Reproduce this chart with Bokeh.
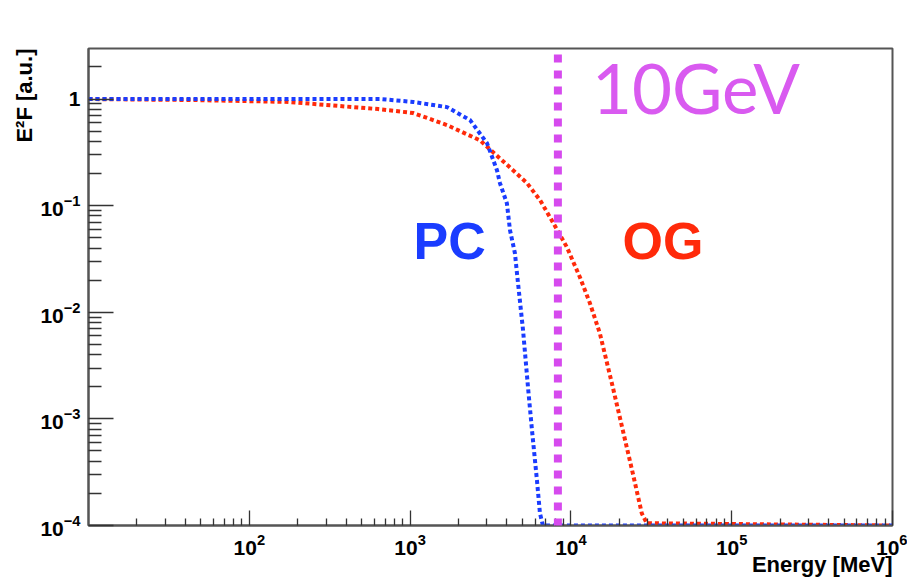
import numpy as np
from bokeh.plotting import figure
from bokeh.models import Label, FixedTicker, LogTickFormatter, Arrow, Title
from bokeh.embed import file_html
from bokeh.resources import INLINE

# ---- data ----
pc_energy = [10, 100, 300, 652, 1045, 1698, 2360, 3008, 3470, 3620, 4000, 4180,
             4487, 4620, 5040, 5410, 5730, 6150, 6420, 6700, 1e6]
pc_flux = [1.0, 1.0, 1.0, 1.0, 0.94, 0.84, 0.635, 0.386, 0.215, 0.163, 0.105, 0.0589,
           0.0358, 0.0232, 0.00678, 0.00198, 7.8e-4, 2.65e-4, 1.3e-4, 1.0e-4, 1.0e-4]

og_energy = [10, 43.6, 175, 633, 1045, 1698, 2720, 4365, 5330, 6420, 7410, 9450,
             11380, 13120, 15140, 18230, 21040, 24270, 27600, 29650, 1e6]
og_flux = [1.0, 0.98, 0.94, 0.805, 0.74, 0.57, 0.41, 0.215, 0.163, 0.113, 0.078, 0.0407,
           0.0213, 0.0122, 0.00635, 0.00198, 7.8e-4, 3.08e-4, 1.3e-4, 1.05e-4, 1.0e-4]

marker_energy = 8300          # the "10GeV" marker line as drawn
marker_extent = [4.9e-5, 6.4]

x_major = [1e2, 1e3, 1e4, 1e5, 1e6]
y_major = [1e-4, 1e-3, 1e-2, 1e-1, 1.0]
y_label_overrides = {1.0: "1"}

x_title = "Energy [MeV]"
y_title = "E\u00b2F [a.u.]"

x_range = (10, 1e6)
y_range = (1e-4, 2.98)

BLUE = "#1a3cff"
RED = "#ff2a0a"
MAG = "#d64aee"
FRAME = "#555555"
FONT = "Liberation Sans"

p = figure(x_axis_type="log", y_axis_type="log", x_range=x_range, y_range=y_range,
           frame_width=804, frame_height=477,
           min_border_left=88, min_border_right=15, min_border_top=48, min_border_bottom=54,
           output_backend="svg", toolbar_location=None)
p.grid.visible = False
p.background_fill_color = "white"
p.border_fill_color = "white"
p.outline_line_color = FRAME
p.outline_line_width = 2

x_minor = [m * 10 ** k for k in range(1, 6) for m in range(2, 10)]
y_minor = [m * 10.0 ** k for k in range(-4, 1) for m in range(2, 10) if m * 10.0 ** k < y_range[1]]

p.xaxis.ticker = FixedTicker(ticks=x_major, minor_ticks=x_minor)
p.yaxis.ticker = FixedTicker(ticks=y_major, minor_ticks=y_minor)
p.yaxis.major_label_overrides = y_label_overrides
for ax in (p.xaxis[0], p.yaxis[0]):
    ax.formatter = LogTickFormatter()
    ax.axis_line_color = FRAME
    ax.axis_line_width = 2
    ax.major_tick_line_color = "#333333"
    ax.minor_tick_line_color = "#333333"
    ax.major_tick_line_width = 1.3
    ax.minor_tick_line_width = 1.3
    ax.major_tick_out = 0
    ax.minor_tick_out = 0
    ax.major_label_text_font = FONT
    ax.major_label_text_font_style = "bold"
    ax.major_label_text_font_size = "21px"
    ax.major_label_text_color = "black"
p.xaxis.major_tick_in = 15
p.xaxis.minor_tick_in = 7
p.yaxis.major_tick_in = 25
p.yaxis.minor_tick_in = 13
p.xaxis.major_label_standoff = 8
p.yaxis.major_label_standoff = 8


def make_title(text, standoff):
    t = Title(text=text, align="right", text_font=FONT, text_font_style="bold",
              text_font_size="22px", text_color="black")
    try:
        t.standoff = standoff
    except Exception:
        t.standoff = 0
    return t


p.add_layout(make_title(x_title, -15), "below")
p.add_layout(make_title(y_title, 2), "left")

# curves
p.line(og_energy, og_flux, line_color=RED, line_width=4, line_dash="4 3")
p.line(pc_energy, pc_flux, line_color=BLUE, line_width=4, line_dash="4 3")

# marker line
p.add_layout(Arrow(x_start=marker_energy, y_start=marker_extent[0],
                   x_end=marker_energy, y_end=marker_extent[1], end=None,
                   line_color=MAG, line_width=8, line_dash="8 8", line_cap="butt"))

# annotations in the plot
p.add_layout(Label(x=1050, y=0.0305, y_offset=20, text="PC", text_align="left",
                   text_baseline="alphabetic",
                   text_font=FONT, text_font_style="bold", text_font_size="52px",
                   text_color=BLUE))
p.add_layout(Label(x=20940, y=0.0305, y_offset=20, text="OG", text_align="left",
                   text_baseline="alphabetic",
                   text_font=FONT, text_font_style="bold", text_font_size="52px",
                   text_color=RED))
p.add_layout(Label(x=14300, y=0.731, x_offset=-4, y_offset=26, text="10GeV", text_align="left",
                   text_baseline="alphabetic",
                   text_font="Lato", text_font_size="69px", text_color="#d95af0"))

open("out.html", "w").write(file_html(p, INLINE))
